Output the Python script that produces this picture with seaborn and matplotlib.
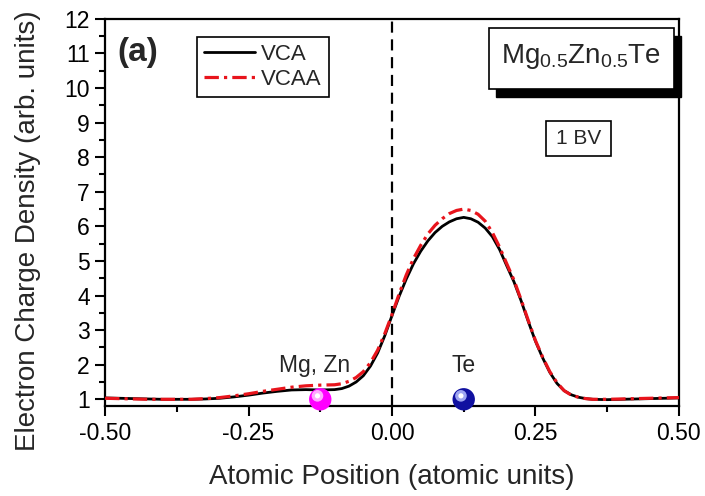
import numpy as np
import pandas as pd
import matplotlib
matplotlib.use("Agg")
import matplotlib.pyplot as plt
import matplotlib.transforms as mtransforms
from matplotlib.patches import Rectangle
from matplotlib.ticker import MultipleLocator, FormatStrFormatter
import seaborn as sns

# ---- data -------------------------------------------------------------
position = [
    -0.500, -0.475, -0.450, -0.425, -0.400, -0.375, -0.350, -0.325, -0.300,
    -0.275, -0.250, -0.225, -0.200, -0.175, -0.150, -0.125, -0.100, -0.0875,
    -0.075, -0.0625, -0.050, -0.0375, -0.025, -0.0125, 0.000, 0.0125, 0.025,
    0.0375, 0.050, 0.0625, 0.075, 0.0875, 0.100, 0.1125, 0.125, 0.1375, 0.150,
    0.1625, 0.175, 0.1875, 0.200, 0.2125, 0.225, 0.2375, 0.250, 0.2625, 0.275,
    0.2875, 0.300, 0.3125, 0.325, 0.3375, 0.350, 0.375, 0.400, 0.425, 0.450,
    0.475, 0.500,
]
vca = [
    1.04, 1.03, 1.02, 1.01, 1.00, 1.00, 1.00, 1.01, 1.03,
    1.07, 1.12, 1.18, 1.23, 1.27, 1.28, 1.27, 1.28, 1.31,
    1.38, 1.50, 1.68, 1.96, 2.34, 2.84, 3.42, 3.98, 4.48,
    4.92, 5.28, 5.58, 5.82, 6.00, 6.13, 6.22, 6.26, 6.22, 6.12,
    5.95, 5.70, 5.33, 4.86, 4.40, 3.85, 3.25, 2.68, 2.20, 1.78,
    1.46, 1.25, 1.13, 1.06, 1.02, 1.00, 0.99, 1.00, 1.01, 1.02,
    1.03, 1.04,
]
vcaa = [
    1.03, 1.02, 1.01, 1.00, 1.00, 1.00, 1.00, 1.02, 1.05,
    1.10, 1.16, 1.23, 1.29, 1.35, 1.39, 1.41, 1.42, 1.45,
    1.52, 1.63, 1.80, 2.06, 2.42, 2.90, 3.45, 4.05, 4.60,
    5.07, 5.45, 5.78, 6.03, 6.22, 6.37, 6.46, 6.50, 6.46, 6.35,
    6.15, 5.82, 5.40, 4.92, 4.45, 3.88, 3.28, 2.70, 2.22, 1.80,
    1.48, 1.25, 1.12, 1.06, 1.02, 1.00, 1.00, 1.01, 1.02, 1.03,
    1.04, 1.05,
]
atom_labels = ["Mg, Zn", "Te"]
atom_x = [-0.125, 0.125]
atom_y = [1.0, 1.0]
atom_colors = ["#ff00ff", "#1010a0"]
atom_highlights = ["#ffc8ff", "#b8c0ff"]

df = pd.DataFrame({
    "Atomic Position": position * 2,
    "Density": vca + vcaa,
    "Method": ["VCA"] * len(vca) + ["VCAA"] * len(vcaa),
})

# ---- style ------------------------------------------------------------
sns.set_style("ticks")
plt.rcParams["font.family"] = ["Liberation Sans", "DejaVu Sans"]
plt.rcParams["mathtext.fontset"] = "custom"
plt.rcParams["mathtext.rm"] = "Liberation Sans"
plt.rcParams["mathtext.it"] = "Liberation Sans"

fig = plt.figure(figsize=(7.05, 4.96), dpi=100)
ax = fig.add_axes([0.149, 0.181, 0.814, 0.781])

sns.lineplot(data=df[df["Method"] == "VCA"], x="Atomic Position", y="Density",
             color="black", linewidth=2.0, ax=ax, label="VCA", zorder=3)
sns.lineplot(data=df[df["Method"] == "VCAA"], x="Atomic Position", y="Density",
             color="#e8141c", linewidth=2.3, ax=ax, label="VCAA", zorder=4)
ax.lines[-1].set_linestyle((0, (4.5, 1.6, 1.0, 1.6)))

# dashed marker of the cell origin
ax.axvline(0.0, color="black", linewidth=1.6, linestyle=(0, (5, 3)), zorder=2)

ax.set_xlim(-0.5, 0.5)
ax.set_ylim(0.8, 12)
ax.xaxis.set_major_locator(MultipleLocator(0.25))
ax.xaxis.set_minor_locator(MultipleLocator(0.125))
ax.xaxis.set_major_formatter(FormatStrFormatter("%.2f"))
ax.yaxis.set_major_locator(MultipleLocator(1))
ax.yaxis.set_minor_locator(MultipleLocator(0.5))
ax.set_yticks(range(1, 13))

ax.tick_params(axis="both", which="major", direction="out", length=7,
               width=1.5, labelsize=16.5, color="black", labelcolor="black",
               pad=4)
ax.tick_params(axis="both", which="minor", direction="out", length=4,
               width=1.5, color="black")
ax.tick_params(top=False, right=False, which="both")
for s in ax.spines.values():
    s.set_linewidth(1.6)
    s.set_color("black")
    s.set_visible(True)

ax.set_xlabel("Atomic Position (atomic units)", fontsize=20, labelpad=14)
ax.set_ylabel("Electron Charge Density (arb. units)", fontsize=20)
ax.yaxis.set_label_coords(-0.112, 0.452)

leg = ax.legend(loc="upper left", bbox_to_anchor=(0.160, 0.953),
                borderaxespad=0, fontsize=16, frameon=True, fancybox=False,
                edgecolor="black", framealpha=1, handlelength=2.3,
                handletextpad=0.3, labelspacing=0.2, borderpad=0.3)
leg.get_frame().set_linewidth(1.2)

ax.text(0.022, 0.912, "(a)", transform=ax.transAxes, fontsize=24,
        fontweight="bold", ha="left", va="center")

# compound label with a drop shadow
bx0, bx1, by0, by1 = 0.669, 0.991, 0.819, 0.977
ax.add_patch(Rectangle((bx0 + 0.013, by0 - 0.021), bx1 - bx0, by1 - by0,
                       transform=ax.transAxes, facecolor="black",
                       edgecolor="black", clip_on=False, zorder=6))
ax.add_patch(Rectangle((bx0, by0), bx1 - bx0, by1 - by0,
                       transform=ax.transAxes, facecolor="white",
                       edgecolor="black", linewidth=1.2, clip_on=False,
                       zorder=7))
ax.text((bx0 + bx1) / 2, (by0 + by1) / 2 + 0.005,
        r"Mg$_{0.5}$Zn$_{0.5}$Te", transform=ax.transAxes, fontsize=20,
        ha="center", va="center", zorder=8)

# band label
ax.add_patch(Rectangle((0.769, 0.646), 0.112, 0.090, transform=ax.transAxes,
                       facecolor="white", edgecolor="black", linewidth=1.2,
                       zorder=7))
ax.text(0.825, 0.691, "1 BV", transform=ax.transAxes, fontsize=15,
        ha="center", va="center", zorder=8)

# atoms drawn as shaded spheres
label_shift = [-4, 0]
for lab, xa, ya, col, hi, dx in zip(atom_labels, atom_x, atom_y, atom_colors,
                                    atom_highlights, label_shift):
    ax.scatter([xa], [ya], s=260, color=col, edgecolors="none",
               zorder=9, clip_on=False)
    shift = mtransforms.offset_copy(ax.transData, fig=fig, x=-2.0, y=2.5,
                                    units="points")
    ax.scatter([xa], [ya], s=70, color=hi, edgecolors="none", alpha=0.85,
               transform=shift, zorder=10, clip_on=False)
    ax.scatter([xa], [ya], s=14, color="white", edgecolors="none",
               transform=shift, zorder=11, clip_on=False)
    ax.annotate(lab, xy=(xa, ya), xytext=(dx, 24), textcoords="offset points",
                ha="center", va="center", fontsize=16.5, zorder=8)

fig.savefig("out.png", dpi=100)
